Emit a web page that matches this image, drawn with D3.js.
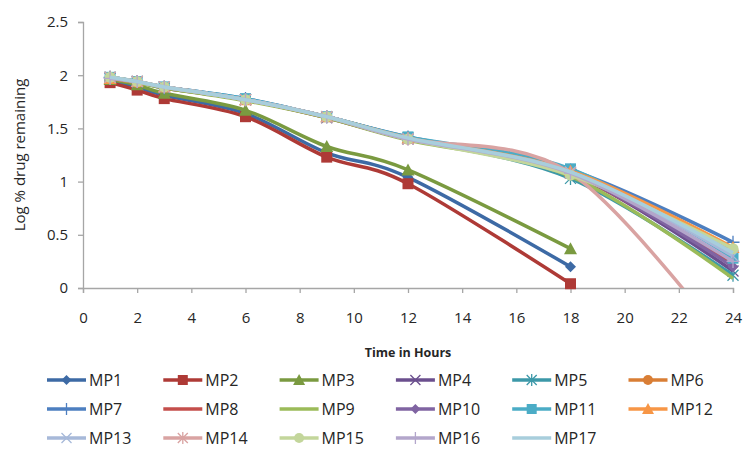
<!DOCTYPE html>
<html>
<head>
<meta charset="utf-8">
<script src="https://cdn.jsdelivr.net/npm/d3@7"></script>
<style>
  body { margin: 0; background: #fff; }
  text { font-family: "Open Sans", Lato, sans-serif; fill: #262626; }
</style>
</head>
<body>
<svg id="chart"></svg>
<script>
// sampling times (hours)
const hours = [1, 2, 3, 6, 9, 12, 18, 24];

// log % drug remaining per formulation
const mp1  = [1.95, 1.89, 1.81, 1.64, 1.27, 1.04, 0.20];
const mp2  = [1.93, 1.86, 1.78, 1.61, 1.23, 0.98, 0.04];
const mp3  = [1.96, 1.91, 1.83, 1.67, 1.33, 1.11, 0.37];
const mp4  = [1.97, 1.94, 1.89, 1.77, 1.60, 1.40, 1.08, 0.16];
const mp5  = [1.98, 1.94, 1.88, 1.77, 1.61, 1.41, 1.03, 0.12];
const mp6  = [1.97, 1.93, 1.89, 1.77, 1.61, 1.40, 1.09, 0.35];
const mp7  = [1.98, 1.94, 1.89, 1.78, 1.61, 1.42, 1.11, 0.43];
const mp8  = [1.97, 1.94, 1.88, 1.77, 1.60, 1.40, 1.07, 0.22];
const mp9  = [1.97, 1.93, 1.88, 1.76, 1.60, 1.39, 1.05, 0.09];
const mp10 = [1.97, 1.94, 1.89, 1.77, 1.61, 1.40, 1.08, 0.20];
const mp11 = [1.98, 1.94, 1.89, 1.78, 1.61, 1.42, 1.12, 0.28];
const mp12 = [1.97, 1.94, 1.89, 1.77, 1.61, 1.41, 1.10, 0.38];
const mp13 = [1.98, 1.94, 1.89, 1.77, 1.61, 1.40, 1.09, 0.30];
const mp14 = [1.98, 1.94, 1.89, 1.77, 1.61, 1.40, 1.08, -0.60];
const mp15 = [1.98, 1.94, 1.89, 1.77, 1.61, 1.40, 1.06, 0.37];
const mp16 = [1.97, 1.94, 1.89, 1.77, 1.61, 1.40, 1.08, 0.25];
const mp17 = [1.98, 1.94, 1.89, 1.77, 1.61, 1.41, 1.09, 0.33];

const seriesNames = ["MP1", "MP2", "MP3", "MP4", "MP5", "MP6", "MP7", "MP8", "MP9",
                     "MP10", "MP11", "MP12", "MP13", "MP14", "MP15", "MP16", "MP17"];
const seriesValues = [mp1, mp2, mp3, mp4, mp5, mp6, mp7, mp8, mp9,
                      mp10, mp11, mp12, mp13, mp14, mp15, mp16, mp17];

const xTicks = [0, 2, 4, 6, 8, 10, 12, 14, 16, 18, 20, 22, 24];
const yTicks = [0, 0.5, 1, 1.5, 2, 2.5];

// look of each series
const colors = ["#3d6aa5", "#ae3a36", "#7a9a40", "#6b4f8e", "#3c98a8", "#d97e35",
                "#4d7fc0", "#c44e4b", "#9bbb59", "#8064a2", "#4bacc6", "#f79646",
                "#a7b9d9", "#d9a3a2", "#c3d69b", "#b3a6cb", "#a8cedc"];
const markers = ["diamond", "square", "triangle", "x", "star", "circle",
                 "plus", null, null, "diamond", "square", "triangle",
                 "x", "star", "circle", "plus", null];

const width = 743, height = 450;
const svg = d3.select("#chart").attr("width", width).attr("height", height);

const x = d3.scaleLinear().domain([0, 24]).range([83, 733]);
const y = d3.scaleLinear().domain([0, 2.5]).range([288, 22]);

svg.append("clipPath").attr("id", "plot")
    .append("rect").attr("x", 83).attr("y", 22).attr("width", 660).attr("height", 266);

// axes
const axisColor = "#a6a6a6";
const gy = svg.append("g").attr("transform", `translate(${x(0)},0)`)
    .call(d3.axisLeft(y).tickValues(yTicks).tickSize(5).tickPadding(10).tickFormat(d3.format("~g")));
const gx = svg.append("g").attr("transform", `translate(0,${y(0)})`)
    .call(d3.axisBottom(x).tickValues(xTicks).tickSize(5).tickPadding(19).tickFormat(d3.format("~g")));
[gx, gy].forEach(g => {
    g.select(".domain").attr("stroke", axisColor).attr("stroke-width", 1.3);
    g.selectAll(".tick line").attr("stroke", axisColor).attr("stroke-width", 1.3);
    g.selectAll(".tick text").attr("font-size", 15).attr("fill", "#262626")
        .style("font-family", "'Open Sans', Lato, sans-serif");
});

svg.append("text")
    .attr("x", (x(0) + x(24)) / 2).attr("y", 357)
    .attr("text-anchor", "middle").attr("font-size", 12.5).attr("font-weight", "bold")
    .text("Time in Hours");

svg.append("text")
    .attr("transform", "translate(20,155) rotate(-90)")
    .attr("text-anchor", "middle").attr("dy", "0.35em").attr("font-size", 15)
    .text("Log % drug remaining");

// marker drawing
function drawMarker(g, type, color, size) {
    const s = size / 2;
    if (type === "diamond") {
        g.append("path").attr("d", `M0,${-s}L${s},0L0,${s}L${-s},0Z`).attr("fill", color);
    } else if (type === "square") {
        g.append("rect").attr("x", -s).attr("y", -s).attr("width", size).attr("height", size).attr("fill", color);
    } else if (type === "triangle") {
        g.append("path").attr("d", `M0,${-s - 1}L${s + 1},${s}L${-s - 1},${s}Z`).attr("fill", color);
    } else if (type === "circle") {
        g.append("circle").attr("r", s).attr("fill", color);
    } else if (type === "x") {
        g.append("path").attr("d", `M${-s},${-s}L${s},${s}M${-s},${s}L${s},${-s}`)
            .attr("stroke", color).attr("stroke-width", 1.3);
    } else if (type === "star") {
        g.append("path").attr("d", `M${-s},${-s}L${s},${s}M${-s},${s}L${s},${-s}M0,${-s - 1}L0,${s + 1}`)
            .attr("stroke", color).attr("stroke-width", 1.3);
    } else if (type === "plus") {
        g.append("path").attr("d", `M${-s - 1},0L${s + 1},0M0,${-s - 1}L0,${s + 1}`)
            .attr("stroke", color).attr("stroke-width", 1.3);
    }
}

const line = d3.line()
    .x((d, i) => x(hours[i]))
    .y(d => y(d))
    .curve(d3.curveCatmullRom.alpha(0));

const plot = svg.append("g");
seriesValues.forEach((vals, k) => {
    const g = plot.append("g");
    g.append("path")
        .attr("d", line(vals))
        .attr("clip-path", "url(#plot)")
        .attr("fill", "none")
        .attr("stroke", colors[k])
        .attr("stroke-width", 3.5)
        .attr("stroke-linejoin", "round");
    if (markers[k]) {
        vals.forEach((v, i) => {
            if (v < 0) return;
            drawMarker(g.append("g").attr("transform", `translate(${x(hours[i])},${y(v)})`),
                markers[k], colors[k], 11);
        });
    }
});

// legend
const legend = svg.append("g");
seriesNames.forEach((name, k) => {
    const col = k % 6, row = Math.floor(k / 6);
    const lg = legend.append("g").attr("transform", `translate(${47 + col * 116.3},${380 + row * 29})`);
    lg.append("line").attr("x1", 0).attr("x2", 39).attr("y1", 0).attr("y2", 0)
        .attr("stroke", colors[k]).attr("stroke-width", 3.5);
    if (markers[k]) drawMarker(lg.append("g").attr("transform", "translate(19.5,0)"), markers[k], colors[k], 10);
    lg.append("text").attr("x", 42).attr("y", 0).attr("dy", "0.36em")
        .attr("font-size", 16).text(name);
});
</script>
</body>
</html>
